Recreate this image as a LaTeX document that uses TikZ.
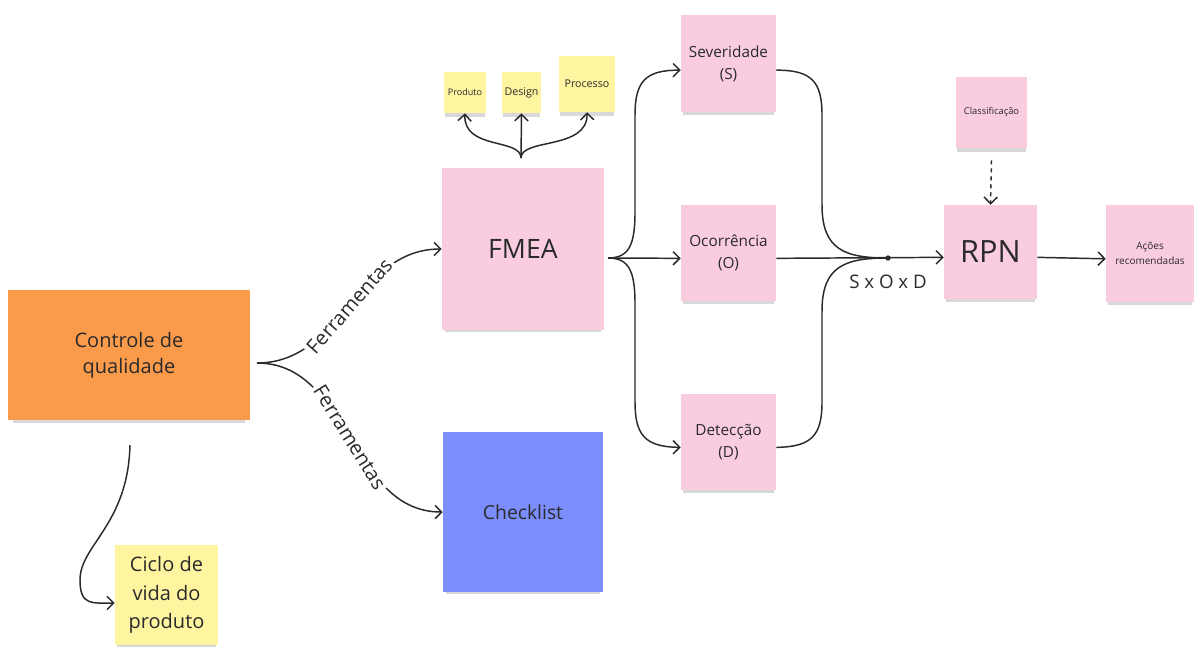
\documentclass[tikz,border=0pt]{standalone}
\usepackage{fontspec}
\setmainfont{Open Sans}
\usetikzlibrary{arrows.meta,shadows}
\definecolor{notepink}{HTML}{F9CCE0}
\definecolor{noteyellow}{HTML}{FFF5A1}
\definecolor{noteorange}{HTML}{FA9B4C}
\definecolor{noteblue}{HTML}{7C8DFD}
\definecolor{ink}{HTML}{2A2A2A}
\begin{document}
\begin{tikzpicture}[x=0.75pt, y=-0.75pt,
    wh/.style 2 args={minimum width=#1*0.75pt, minimum height=#2*0.75pt},
    note/.style={inner sep=0pt, align=center, text=ink,
        drop shadow={shadow xshift=0pt, shadow yshift=-4pt, opacity=0.3, shadow scale=0.96}},
    conn/.style={draw=ink, line width=1.1pt, -{Straight Barb[length=5pt, width=10pt]}},
    wire/.style={draw=ink, line width=1.1pt},
    fs/.style 2 args={font=\fontsize{#1}{#2}\selectfont}]
    \useasboundingbox[fill=white] (0,0) rectangle (1194,646);

    % Nodes
    \node[note, fill=noteorange, wh={242}{130}, fs={15}{19.5}] (cq) at (129,355) {Controle de\\qualidade};
    \node[note, fill=noteyellow, wh={103}{100}, fs={15}{21.5}] (ciclo) at (166.5,595) {Ciclo de\\vida do\\produto};
    \node[note, fill=notepink, wh={162}{162}, fs={20}{24}] (fmea) at (523,249) {FMEA};
    \node[note, fill=noteblue, wh={160}{160}, fs={14.5}{18}] (check) at (523,512) {Checklist};

    \node[note, fill=noteyellow, wh={42}{41}, fs={6.8}{8}] (prod) at (465,92.5) {Produto};
    \node[note, fill=noteyellow, wh={39}{41}, fs={8}{10}] (design) at (521.5,92.5) {Design};
    \node[note, fill=noteyellow, wh={56}{56}, fs={8}{10}] (proc) at (587,84) {Processo};

    \node[note, fill=notepink, wh={95}{97}, fs={11.5}{16.5}] (sev) at (728.5,63.5) {Severidade\\(S)};
    \node[note, fill=notepink, wh={95}{96}, fs={11.5}{16.5}] (oco) at (728.5,253) {Ocorrência\\(O)};
    \node[note, fill=notepink, wh={95}{96}, fs={11.5}{16.5}] (det) at (728.5,442) {Detecção\\(D)};

    \node[note, fill=notepink, wh={71}{71}, fs={7}{9}] (clas) at (991.5,112.5) {Classificação};
    \node[note, fill=notepink, wh={93}{94}, fs={23}{27}] (rpn) at (990.5,252) {RPN};
    \node[note, fill=notepink, wh={88}{97}, fs={7.5}{11}] (acoes) at (1150,253.5) {Ações\\recomendadas};

    % Split points
    \coordinate (qsplit) at (257,363);
    \coordinate (fsplit) at (608,258);
    \coordinate (tsplit) at (521,158);
    \coordinate (join) at (888,258);

    % Ferramentas
    \draw[conn] (qsplit) to[out=0, in=180]
        node[sloped, fill=white, inner sep=2pt, text=ink, fs={15}{18}] {Ferramentas} (fmea.west);
    \draw[conn] (qsplit) to[out=0, in=180]
        node[sloped, fill=white, inner sep=2pt, text=ink, fs={15}{18}] {Ferramentas} (check.west);

    % Ciclo de vida
    \draw[conn] (130,445) .. controls (128,525) and (80,545) .. (80,580)
        .. controls (80,606) and (92,603) .. ([yshift=-6pt]ciclo.west);

    % FMEA to Produto, Design, Processo
    \draw[conn] (tsplit) -- (design.south);
    \draw[conn] (tsplit) .. controls (521,138) and (463,150) .. (prod.south);
    \draw[conn] (tsplit) .. controls (521,138) and (588,150) .. (proc.south);

    % FMEA to S, O, D
    \draw[conn] (fsplit) .. controls (629,258) and (635,245) .. (635,212) -- (635,115)
        .. controls (635,82) and (645,70) .. ([yshift=-5pt]sev.west);
    \draw[conn] (fsplit) -- ([yshift=-4pt]oco.west);
    \draw[conn] (fsplit) .. controls (629,258) and (635,271) .. (635,304) -- (635,402)
        .. controls (635,435) and (645,447) .. ([yshift=-4pt]det.west);

    % S, O, D to RPN
    \draw[wire] ([yshift=-5pt]sev.east) .. controls (812,70) and (822,82) .. (822,115) -- (822,205)
        .. controls (822,250) and (845,258) .. (join);
    \draw[wire] ([yshift=-4pt]det.east) .. controls (812,447) and (822,435) .. (822,402) -- (822,311)
        .. controls (822,266) and (845,258) .. (join);
    \draw[conn] ([yshift=-4pt]oco.east) -- ([yshift=-4pt]rpn.west);
    \fill[ink] (join) circle (2pt);
    \node[text=ink, fs={14}{16}] (sod) at (888,282) {S x O x D};

    % RPN
    \draw[conn, dashed] (clas.south) ++(0,12) -- (rpn.north);
    \draw[conn] ([yshift=-4pt]rpn.east) -- ([yshift=-4pt]acoes.west);
\end{tikzpicture}
\end{document}
